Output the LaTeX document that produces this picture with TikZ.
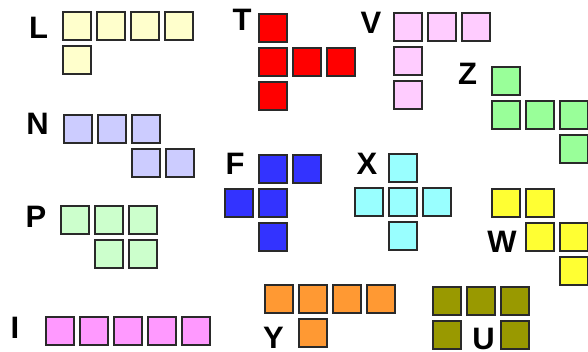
\documentclass[tikz,border=0pt]{standalone}
\usepackage{fontspec}
\setmainfont{Liberation Sans}
\definecolor{cL}{HTML}{FFFFCC}
\definecolor{cT}{HTML}{FF0000}
\definecolor{cV}{HTML}{FFCCFF}
\definecolor{cZ}{HTML}{99FF99}
\definecolor{cN}{HTML}{CCCCFF}
\definecolor{cP}{HTML}{CCFFCC}
\definecolor{cF}{HTML}{3333FF}
\definecolor{cX}{HTML}{99FFFF}
\definecolor{cW}{HTML}{FFFF33}
\definecolor{cI}{HTML}{FF99FF}
\definecolor{cY}{HTML}{FF9933}
\definecolor{cU}{HTML}{999900}
\definecolor{edge}{HTML}{2A2A2A}
\newcommand\pentapiece[5]{%
  \foreach \cx/\cy [count=\k] in {#5}
    \node[cell, fill=#4] (#1-\k) at ({#2+34*\cx+15},{#3+34*\cy+15}) {};%
}
\begin{document}
\begin{tikzpicture}[x=1pt,y=-1pt,
  cell/.style={draw=edge, line width=2.2pt, minimum size=28.6pt, inner sep=0pt, shape=rectangle},
  lbl/.style={font=\bfseries\fontsize{31}{33}\selectfont, inner sep=0pt, anchor=center}]
\useasboundingbox (0,0) rectangle (588,352);
\begin{scope}
\clip (0,0) rectangle (588,352);
\pentapiece{L}{62}{11}{cL}{0/0,1/0,2/0,3/0,0/1}
\pentapiece{T}{258}{13}{cT}{0/0,0/1,1/1,2/1,0/2}
\pentapiece{V}{393}{12}{cV}{0/0,1/0,2/0,0/1,0/2}
\pentapiece{Z}{491}{66}{cZ}{0/0,0/1,1/1,2/1,2/2}
\pentapiece{N}{63}{114}{cN}{0/0,1/0,2/0,2/1,3/1}
\pentapiece{P}{60}{205}{cP}{0/0,1/0,2/0,1/1,2/1}
\pentapiece{F}{224}{154}{cF}{1/0,2/0,0/1,1/1,1/2}
\pentapiece{X}{354}{153}{cX}{1/0,0/1,1/1,2/1,1/2}
\pentapiece{W}{491}{188}{cW}{0/0,1/0,1/1,2/1,2/2}
\pentapiece{I}{45}{316}{cI}{0/0,1/0,2/0,3/0,4/0}
\pentapiece{Y}{264}{284}{cY}{0/0,1/0,2/0,3/0,1/1}
\pentapiece{U}{432}{286}{cU}{0/0,1/0,2/0,0/1,2/1}
\end{scope}
\node[lbl] (lL) at (38.5,27.5) {L};
\node[lbl] (lT) at (242,19.5) {T};
\node[lbl] (lV) at (371,23) {V};
\node[lbl] (lZ) at (467.5,74) {Z};
\node[lbl] (lN) at (37.5,124) {N};
\node[lbl] (lP) at (36,217) {P};
\node[lbl] (lF) at (235,164) {F};
\node[lbl] (lX) at (367,163.5) {X};
\node[lbl] (lW) at (502,241.5) {W};
\node[lbl] (lI) at (15,327.5) {I};
\node[lbl] (lY) at (273.5,337.5) {Y};
\node[lbl] (lU) at (483.5,338.5) {U};
\end{tikzpicture}
\end{document}
